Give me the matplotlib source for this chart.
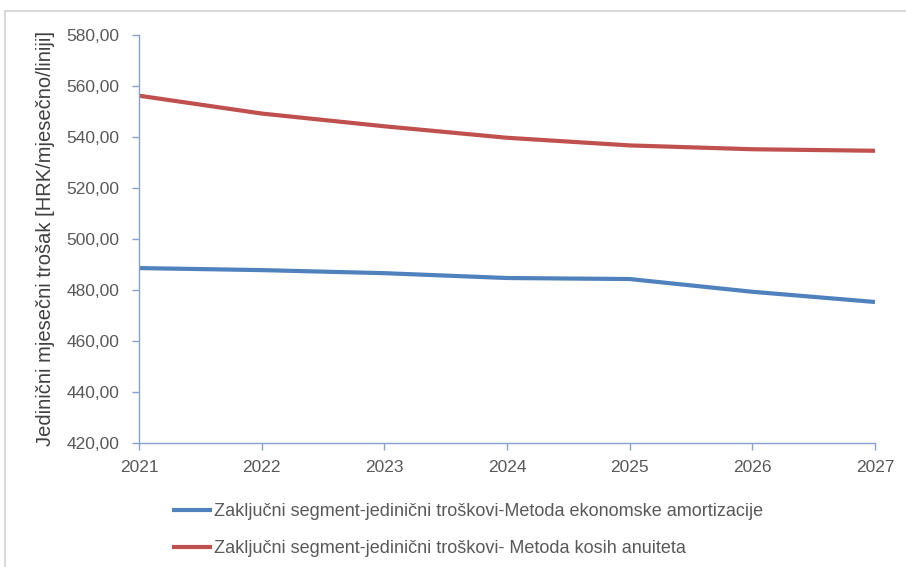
import matplotlib
matplotlib.use("Agg")
import matplotlib.pyplot as plt
from matplotlib.patches import Rectangle
from matplotlib.ticker import FuncFormatter, MultipleLocator

years = [2021, 2022, 2023, 2024, 2025, 2026, 2027]
ekonomska = [488.6, 487.8, 486.6, 484.7, 484.3, 479.3, 475.3]
anuiteti = [556.2, 549.2, 544.2, 539.7, 536.7, 535.2, 534.6]
labels = ["Zaključni segment-jedinični troškovi-Metoda ekonomske amortizacije",
          "Zaključni segment-jedinični troškovi- Metoda kosih anuiteta"]

plt.rcParams['font.family'] = ['Liberation Sans', 'DejaVu Sans']
txt = '#595959'
axc = '#86A2CC'

fig = plt.figure(figsize=(9.06, 5.67), dpi=100)
fig.patches.append(Rectangle((5/906, -0.1), 1.2, 1 - 11/567 + 0.1, transform=fig.transFigure,
                             fill=False, edgecolor='#D9D9D9', linewidth=1.5))
ax = fig.add_axes([139/906, 1 - 443/567, 736/906, 408/567])

l1, = ax.plot(years, ekonomska, color='#4F81BD', linewidth=3, solid_capstyle='butt')
l2, = ax.plot(years, anuiteti, color='#C0504D', linewidth=3, solid_capstyle='butt')

ax.set_xlim(2021, 2027)
ax.set_ylim(420, 580)
ax.yaxis.set_major_locator(MultipleLocator(20))
ax.yaxis.set_major_formatter(FuncFormatter(lambda v, p: f"{v:.2f}".replace('.', ',')))
ax.set_xticks(years)

for s in ['top', 'right']:
    ax.spines[s].set_visible(False)
for s in ['left', 'bottom']:
    ax.spines[s].set_color(axc)
    ax.spines[s].set_linewidth(1)
ax.tick_params(axis='both', colors=axc, labelcolor=txt, labelsize=12.5, length=5, width=1)
ax.tick_params(axis='y', pad=9)
ax.tick_params(axis='x', pad=7)
ax.set_ylabel("Jedinični mjesečni trošak [HRK/mjesečno/liniji]", fontsize=14.5, color='#404040',
              labelpad=8)

fig.legend([l1, l2], labels, loc='upper left', bbox_to_anchor=(172/906, 1 - 503/567),
           frameon=False, fontsize=13, labelcolor=txt, handlelength=2.2, handletextpad=0.15,
           labelspacing=1.1, borderpad=0, borderaxespad=0)

fig.savefig('out.png', dpi=100)
